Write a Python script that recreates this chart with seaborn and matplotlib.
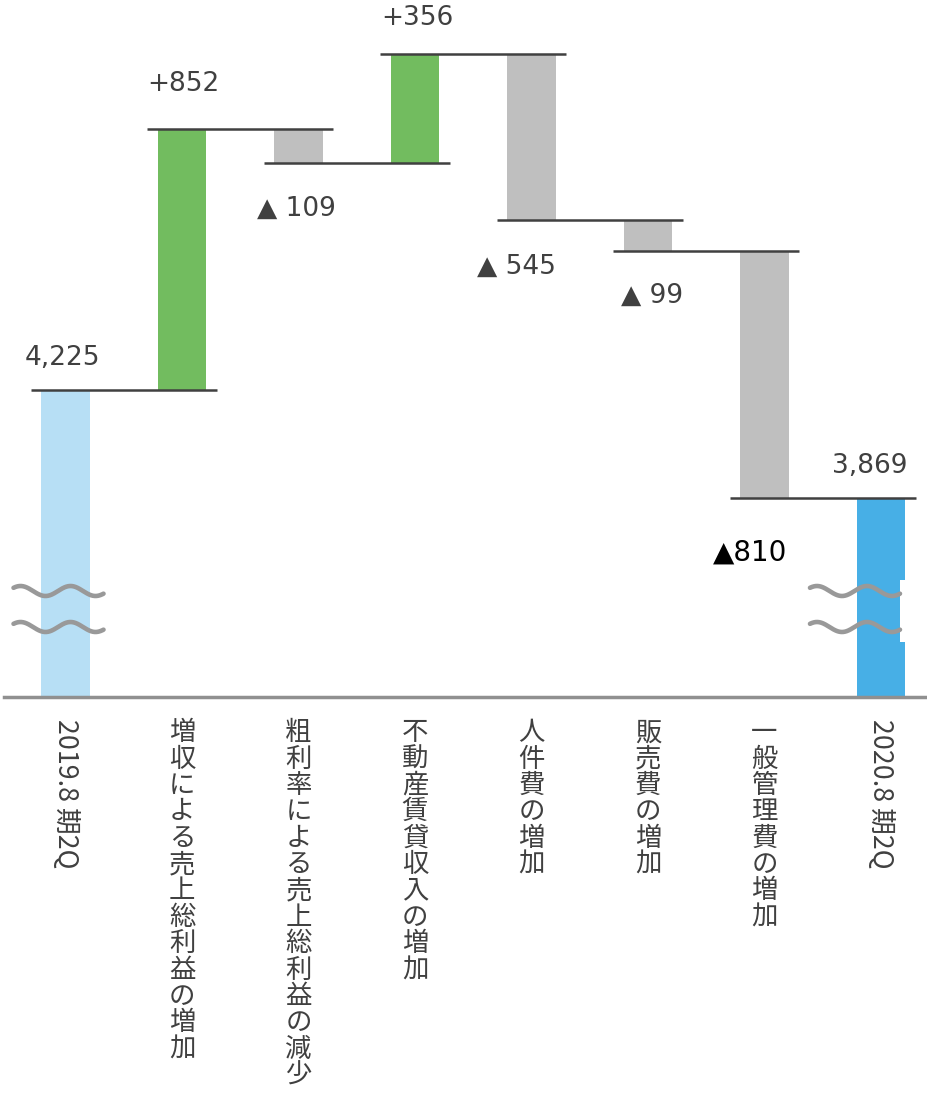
import numpy as np
import pandas as pd
import matplotlib
matplotlib.use("Agg")
import matplotlib.pyplot as plt
import seaborn as sns

# ---------------- data ----------------
categories = ["2019.8 期2Q", "増収による売上総利益の増加", "粗利率による売上総利益の減少",
              "不動産賃貸収入の増加", "人件費の増加", "販売費の増加", "一般管理費の増加", "2020.8 期2Q"]
values = [4225, 852, -109, 356, -545, -99, -810, 3869]
value_labels = ["4,225", "+852", "▲ 109", "+356", "▲ 545", "▲ 99", "▲810", "3,869"]
kinds = ["total", "delta", "delta", "delta", "delta", "delta", "delta", "total"]

# ---------------- style ----------------
sns.set_theme(style="white")
plt.rcParams["font.family"] = ["DejaVu Sans", "Noto Sans CJK JP"]

col_start = "#B7DFF5"
col_up = "#72BC5F"
col_down = "#BFBFBF"
col_end = "#47AFE6"
txt_col = "#404040"

axis_floor = 3218
axis_top = 5501

# waterfall geometry from values
tops, bottoms = [], []
running = 0
for v, k in zip(values, kinds):
    if k == "total":
        bottoms.append(axis_floor)
        tops.append(v)
        running = v
    else:
        new = running + v
        bottoms.append(min(running, new))
        tops.append(max(running, new))
        running = new

colors = []
for i, (v, k) in enumerate(zip(values, kinds)):
    if k == "total":
        colors.append(col_start if i == 0 else col_end)
    else:
        colors.append(col_up if v > 0 else col_down)

df = pd.DataFrame({"cat": categories,
                   "height": [t - b for t, b in zip(tops, bottoms)]})

W, H = 927, 1093
fig = plt.figure(figsize=(W / 100, H / 100), dpi=100)
ax = fig.add_axes([4 / W, 1 - 697 / H, 923 / W, 697 / H])

sns.barplot(data=df, x="cat", y="height", hue="cat", palette=colors,
            legend=False, width=0.42, order=categories, hue_order=categories,
            saturation=1, ax=ax, linewidth=0)
for p, b in zip(ax.patches, bottoms):
    p.set_y(b)

ax.set_xlim(-0.528, 7.395)
ax.set_ylim(axis_floor, axis_top)

# connectors
for i in range(len(values) - 1):
    lvl = tops[i] if (kinds[i] == "total" or values[i] > 0) else bottoms[i]
    ax.plot([i - 0.30, i + 1 + 0.30], [lvl, lvl], color="#404040", lw=1.8,
            solid_capstyle="butt", zorder=5)

# break marks (wavy lines)
px_per_unit_y = 697 / (axis_top - axis_floor)
px_per_unit_x = 923 / (7.395 + 0.528)
# small white notch on the right edge of the last bar
ax.fill_between([7 + 19 / px_per_unit_x, 7 + 26 / px_per_unit_x],
                axis_floor + 55 / px_per_unit_y, axis_floor + 117 / px_per_unit_y,
                color="white", lw=0, zorder=4)
for idx, (xl, xr) in zip([0, 7], [(-52, 38), (-71, 19)]):
    xs_px = np.linspace(xl, xr, 200)
    for c_px in (106, 70):
        amp = 5 / px_per_unit_y
        ys = axis_floor + c_px / px_per_unit_y + amp * np.cos(2 * np.pi * (xs_px - xl - 7) / 50)
        ax.plot(idx + xs_px / px_per_unit_x, ys, color="#999999", lw=3.3, zorder=6,
                solid_capstyle="round")

# value labels
offsets = [(-3.5, 32), (1, 45), (-2.5, -46), (2, 36), (-15, -46), (4, -45), (-14, -55), (-11, 32)]
for i, (lab, off) in enumerate(zip(value_labels, offsets)):
    lvl = tops[i] if (kinds[i] == "total" or values[i] > 0) else bottoms[i]
    is_big = (i == 6)
    ax.annotate(lab, xy=(i, lvl), xytext=off, textcoords="offset pixels",
                ha="center", va="center", fontsize=20 if is_big else 19,
                color="black" if is_big else txt_col, zorder=7)

# axes styling
for s in ["top", "right", "left"]:
    ax.spines[s].set_visible(False)
ax.spines["bottom"].set_color("#909090")
ax.spines["bottom"].set_linewidth(2.5)
ax.set_yticks([])
ax.set_ylabel("")
ax.set_xlabel("")
ax.tick_params(axis="x", length=0, pad=16)
ax.set_xticks(range(len(categories)))
ticklabels = [c if k == "total" else "\n".join(c) for k, c in zip(kinds, categories)]
ax.set_xticklabels(ticklabels)
for k, t in zip(kinds, ax.get_xticklabels()):
    t.set_family(["Noto Sans CJK JP", "DejaVu Sans"])
    t.set_color(txt_col)
    t.set_va("top")
    t.set_ha("center")
    if k == "total":
        t.set_fontsize(19.3)
        t.set_rotation(-90)
    else:
        t.set_fontsize(19)
        t.set_linespacing(0.97)
        t.set_multialignment("center")

fig.savefig("out.png", dpi=100)
